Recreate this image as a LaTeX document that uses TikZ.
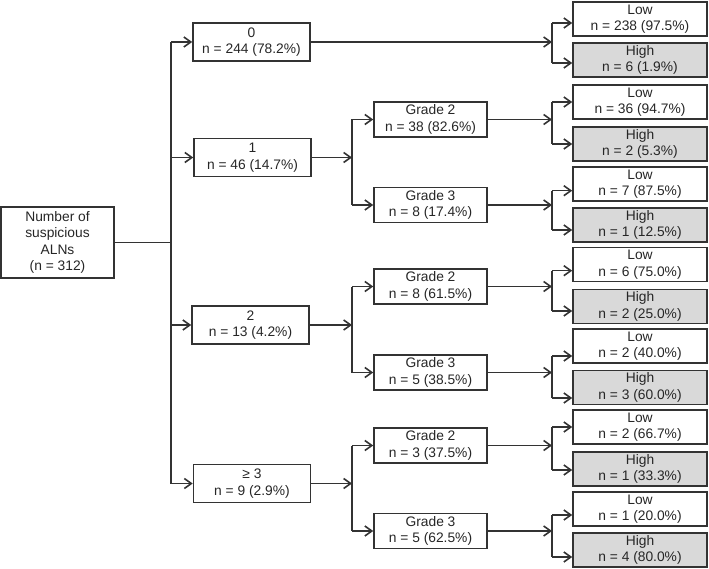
\documentclass[tikz,border=0pt]{standalone}
\usepackage{fontspec}
\setmainfont{Liberation Sans}
\usetikzlibrary{arrows.meta}
\definecolor{linec}{HTML}{333333}
\definecolor{highgray}{HTML}{D9D9D9}
\begin{document}
\begin{tikzpicture}[x=1pt,y=-1pt,
  box/.style={draw=linec, line width=1.6pt, rectangle, align=center, inner sep=0pt,
    font=\fontsize{13.8}{16.5}\selectfont, text=black!85},
  lone/.style={box, minimum width=117pt, minimum height=38pt},
  ltwo/.style={box, minimum width=113pt, minimum height=35pt},
  lowbox/.style={box, minimum width=134pt, minimum height=34pt},
  highbox/.style={lowbox, fill=highgray},
  conn/.style={draw=linec, line width=1.6pt},
  arr/.style={conn, -{Straight Barb[length=7pt,width=10pt]}}
]
\useasboundingbox (0,0) rectangle (709,569);

% root
\node[box, minimum width=113pt, minimum height=71pt] (root) at (57.5,242.5)
  {Number of\\suspicious\\ALNs\\(n = 312)};

% level 1
\node[lone] (n0) at (251.5,42) {0\\n = 244 (78.2\%)};
\node[lone] (n1) at (252.5,157.5) {1\\n = 46 (14.7\%)};
\node[lone] (n2) at (250.5,325) {2\\n = 13 (4.2\%)};
\node[lone] (n3) at (252,483.5) {≥ 3\\n = 9 (2.9\%)};

% level 2
\node[ltwo] (b1a) at (430.5,119.5) {Grade 2\\n = 38 (82.6\%)};
\node[ltwo] (b1b) at (430.5,205) {Grade 3\\n = 8 (17.4\%)};
\node[ltwo] (b2a) at (430.5,286.5) {Grade 2\\n = 8 (61.5\%)};
\node[ltwo] (b2b) at (430.5,372.5) {Grade 3\\n = 5 (38.5\%)};
\node[ltwo] (b3a) at (430.5,445.5) {Grade 2\\n = 3 (37.5\%)};
\node[ltwo] (b3b) at (430.5,531) {Grade 3\\n = 5 (62.5\%)};

% leaves
\node[lowbox]  (l1)  at (640,19)    {Low\\n = 238 (97.5\%)};
\node[highbox] (h1)  at (640,60)    {High\\n = 6 (1.9\%)};
\node[lowbox]  (l2)  at (640,102)   {Low\\n = 36 (94.7\%)};
\node[highbox] (h2)  at (640,144)   {High\\n = 2 (5.3\%)};
\node[lowbox]  (l3)  at (640,184)   {Low\\n = 7 (87.5\%)};
\node[highbox] (h3)  at (640,225)   {High\\n = 1 (12.5\%)};
\node[lowbox]  (l4)  at (640,264.5) {Low\\n = 6 (75.0\%)};
\node[highbox] (h4)  at (640,306.5) {High\\n = 2 (25.0\%)};
\node[lowbox]  (l5)  at (640,346)   {Low\\n = 2 (40.0\%)};
\node[highbox] (h5)  at (640,387.5) {High\\n = 3 (60.0\%)};
\node[lowbox]  (l6)  at (640,427)   {Low\\n = 2 (66.7\%)};
\node[highbox] (h6)  at (640,469)   {High\\n = 1 (33.3\%)};
\node[lowbox]  (l7)  at (640,509)   {Low\\n = 1 (20.0\%)};
\node[highbox] (h7)  at (640,550)   {High\\n = 4 (80.0\%)};

% trunk from root
\coordinate (tx) at (171,0);
\coordinate (bx) at (352,0);
\coordinate (lx) at (552,0);
\draw[conn] (root.east) -- (root.east -| tx);
\draw[conn] (tx |- n0.west) -- (tx |- n3.west);
\foreach \n in {n0,n1,n2,n3}
  \draw[arr] (tx |- \n.west) -- (\n.west);

% level 1 -> level 2
\foreach \p/\a/\b in {n1/b1a/b1b, n2/b2a/b2b, n3/b3a/b3b}{
  \draw[arr] (\p.east) -- (\p.east -| bx);
  \draw[conn] (bx |- \a.west) -- (bx |- \b.west);
  \draw[arr] (bx |- \a.west) -- (\a.west);
  \draw[arr] (bx |- \b.west) -- (\b.west);
}

% to leaves
\foreach \p/\lo/\hi/\ya/\yb in {n0/l1/h1/23/63, b1a/l2/h2/102/144, b1b/l3/h3/190.7/230,
    b2a/l4/h4/270.7/311, b2b/l5/h5/356/398, b3a/l6/h6/427/470, b3b/l7/h7/515/557}{
  \coordinate (ta) at (552,\ya);
  \coordinate (tb) at (552,\yb);
  \draw[arr] (\p.east) -- (\p.east -| lx);
  \draw[conn] (ta) -- (tb);
  \draw[arr] (ta) -- (ta -| \lo.west);
  \draw[arr] (tb) -- (tb -| \hi.west);
}
\end{tikzpicture}
\end{document}
